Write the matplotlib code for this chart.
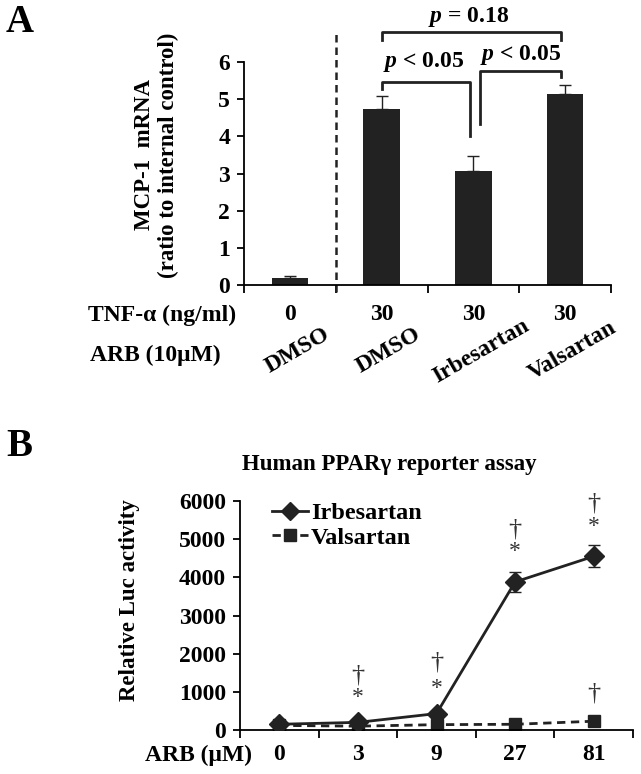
import matplotlib
matplotlib.use("Agg")
import matplotlib.pyplot as plt
from matplotlib.lines import Line2D
import numpy as np

plt.rcParams['font.family'] = ['Liberation Serif', 'DejaVu Serif']
plt.rcParams['font.weight'] = 'bold'
plt.rcParams['mathtext.fontset'] = 'custom'
plt.rcParams['mathtext.it'] = 'Liberation Serif:italic:bold'
plt.rcParams['mathtext.rm'] = 'Liberation Serif:bold'

# Panel A data
tnf_doses = ['0', '30', '30', '30']
arb_groups = ['DMSO', 'DMSO', 'Irbesartan', 'Valsartan']
mcp1_mean = [0.20, 4.73, 3.07, 5.15]
mcp1_err = [0.03, 0.35, 0.40, 0.23]

# Panel B data
arb_doses = ['0', '3', '9', '27', '81']
irb_mean = [150, 200, 430, 3880, 4550]
irb_err = [20, 30, 60, 260, 290]
val_mean = [120, 100, 140, 150, 230]
val_err = [20, 20, 20, 20, 30]
# significance marks (x index, y value, symbol)
marks = [(1, 1420, '\u2020'), (1, 850, '*'),
         (2, 1760, '\u2020'), (2, 1090, '*'),
         (3, 5260, '\u2020'), (3, 4665, '*'),
         (4, 5930, '\u2020'), (4, 5320, '*'),
         (4, 960, '\u2020')]

W, H = 641, 774
fig = plt.figure(figsize=(W / 100, H / 100), dpi=100)
ink = '#222222'


def px_axes(left, top, right, bottom):
    return fig.add_axes([left / W, 1 - bottom / H, (right - left) / W, (bottom - top) / H])


# ---------- Panel A ----------
ax1 = px_axes(244, 62, 611, 285)
x = np.arange(len(mcp1_mean))
ax1.bar(x, mcp1_mean, width=0.4, color=ink, zorder=2)
ax1.errorbar(x, mcp1_mean, yerr=[np.zeros(len(mcp1_err)), mcp1_err], fmt='none',
             ecolor=ink, elinewidth=1, capsize=4, capthick=1, zorder=1)
ax1.set_xlim(-0.5, 3.5)
ax1.set_ylim(0, 6)
ax1.set_yticks(range(7))
ax1.set_xticks(np.arange(-0.5, 4, 1))
ax1.set_xticklabels([])
ax1.tick_params(axis='y', labelsize=17, length=5, width=1.3, pad=5)
ax1.tick_params(axis='x', length=6, width=1.3)
for s in ['top', 'right']:
    ax1.spines[s].set_visible(False)
for s in ['left', 'bottom']:
    ax1.spines[s].set_linewidth(1.3)
ax1.set_ylabel('MCP-1  mRNA\n(ratio to internal control)', fontsize=16.5, fontweight='bold',
               linespacing=1.15)
ax1.yaxis.set_label_coords((179 - 244) / 367, (285 - 155) / 223)

# dashed separator
ax1.plot([0.5, 0.5], [-0.2, 6.8], ls=(0, (3, 2)), color=ink, lw=1.8, clip_on=False)

# significance brackets
blw = 2.0
ax1.plot([1.0, 1.0, 2.95, 2.95], [6.58, 6.8, 6.8, 6.58], color=ink, lw=blw, clip_on=False)
ax1.text(1.95, 7.2, '$p$ = 0.18', ha='center', va='center', fontsize=17)
ax1.plot([1.0, 1.0, 1.96, 1.96], [5.27, 5.45, 5.45, 4.0], color=ink, lw=blw, clip_on=False)
ax1.text(1.46, 6.0, '$p$ < 0.05', ha='center', va='center', fontsize=17)
ax1.plot([2.07, 2.07, 2.95, 2.95], [4.32, 5.77, 5.77, 5.6], color=ink, lw=blw, clip_on=False)
ax1.text(2.52, 6.2, '$p$ < 0.05', ha='center', va='center', fontsize=17)

# condition rows
trans = ax1.get_xaxis_transform()
for i, d in enumerate(tnf_doses):
    ax1.text(i, (285 - 315) / 223, d, transform=trans, ha='center', va='center', fontsize=17)
for i, g in enumerate(arb_groups):
    ax1.text(i + 0.08, (285 - 351) / 223, g, transform=trans, ha='center', va='center',
             fontsize=17, rotation=30)
fig.text(236 / W, 1 - 315 / H, 'TNF-\u03b1 (ng/ml)', ha='right', va='center', fontsize=17)
fig.text(221 / W, 1 - 355 / H, 'ARB (10\u03bcM)', ha='right', va='center', fontsize=17)
fig.text(20 / W, 1 - 23 / H, 'A', ha='center', va='center', fontsize=28)

# ---------- Panel B ----------
ax2 = px_axes(240, 501, 633, 730)
xb = np.arange(len(arb_doses))
ax2.errorbar(xb, irb_mean, yerr=irb_err, color=ink, lw=2, marker='D', ms=10,
             capsize=4, elinewidth=1, capthick=1, zorder=3)
ax2.errorbar(xb, val_mean, yerr=val_err, color=ink, lw=2, ls=(0, (3, 2)), marker='s',
             ms=9, capsize=4, elinewidth=1, capthick=1, zorder=2)
ax2.set_xlim(-0.5, 4.5)
ax2.set_ylim(0, 6000)
ax2.set_yticks(range(0, 6001, 1000))
ax2.set_xticks(np.arange(-0.5, 5, 1))
ax2.set_xticklabels([])
ax2.tick_params(axis='y', labelsize=17, length=5, width=1.3, pad=5)
ax2.tick_params(axis='x', length=6, width=1.3)
for s in ['top', 'right']:
    ax2.spines[s].set_visible(False)
for s in ['left', 'bottom']:
    ax2.spines[s].set_linewidth(1.3)
ax2.set_ylabel('Relative Luc activity', fontsize=16.5, fontweight='bold')
ax2.yaxis.set_label_coords((140 - 240) / 393, (730 - 600) / 229)

transb = ax2.get_xaxis_transform()
for i, d in enumerate(arb_doses):
    ax2.text(i, (730 - 755) / 229, d, transform=transb, ha='center', va='center', fontsize=17)
fig.text(252 / W, 1 - 755 / H, 'ARB (\u03bcM)', ha='right', va='center', fontsize=17)

for xi, yv, sym in marks:
    size = 19 if sym == '\u2020' else 17
    ax2.text(xi, yv, sym, ha='center', va='center', fontsize=size, fontweight='normal',
             color='#333333')

handles = [Line2D([], [], color=ink, lw=2, marker='D', ms=9),
           Line2D([], [], color=ink, lw=2, ls=(0, (3, 2)), marker='s', ms=8)]
ax2.legend(handles, ['Irbesartan', 'Valsartan'], loc='upper left',
           bbox_to_anchor=((272 - 240) / 393, 0.994), frameon=False,
           fontsize=17.5, handlelength=1.5, handletextpad=0.1, labelspacing=0.1,
           borderpad=0, borderaxespad=0)

fig.text(389 / W, 1 - 465 / H, 'Human PPAR\u03b3 reporter assay', ha='center', va='center',
         fontsize=16.5)
fig.text(19 / W, 1 - 446 / H, 'B', ha='center', va='center', fontsize=28)

fig.savefig('out.png', dpi=100)
